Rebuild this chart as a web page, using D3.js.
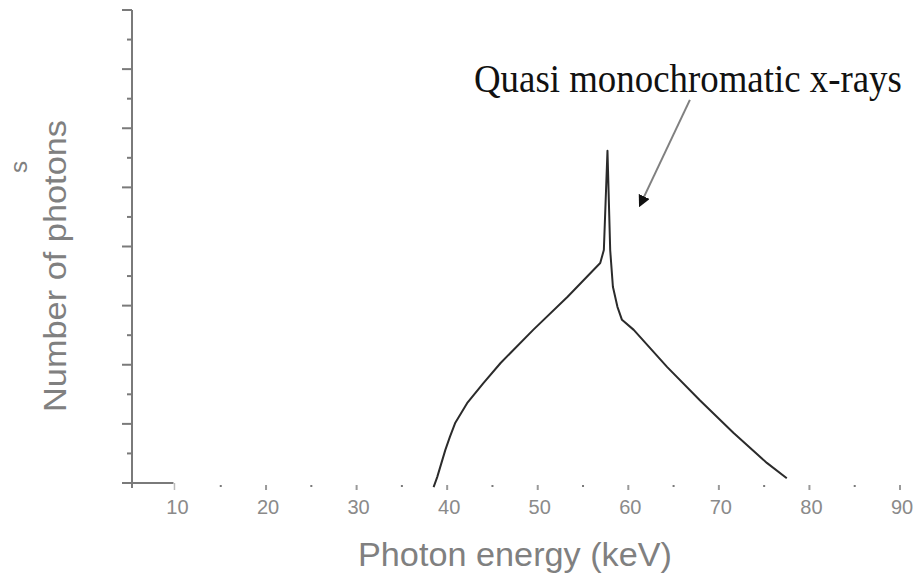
<!DOCTYPE html>
<html>
<head>
<meta charset="utf-8">
<script src="https://cdn.jsdelivr.net/npm/d3@7"></script>
<style>
  body { margin: 0; background: #fff; }
  svg { display: block; }
</style>
</head>
<body>
<div id="chart"></div>
<script>
// photon spectrum (energy in keV, counts in axis units)
const energy = [38.5, 38.9, 39.8, 40.3, 40.9, 42.2, 44.0, 45.9, 49.5, 53.3, 56.9, 57.3,
                57.7, 58.0, 58.3, 58.8, 59.3, 60.6, 64.3, 67.9, 71.6, 75.3, 77.5];
const counts = [-0.07, 0.10, 0.56, 0.78, 1.02, 1.35, 1.69, 2.03, 2.59, 3.15, 3.72, 3.94,
                5.62, 3.94, 3.32, 2.98, 2.76, 2.59, 1.96, 1.40, 0.85, 0.34, 0.08];

const xTickLabels = [10, 20, 30, 40, 50, 60, 70, 80, 90];
const yTicks = d3.range(0, 8.01, 0.5);

// annotation arrow, data units: [tail, head]
const arrowPts = [[66.8, 6.48], [61.3, 4.70]];
const annotText = "Quasi monochromatic x-rays";

const W = 913, H = 575;

const svg = d3.select("#chart").append("svg")
    .attr("width", W)
    .attr("height", H);

const x = d3.scaleLinear().domain([5.2, 90]).range([132, 900]);
const y = d3.scaleLinear().domain([0, 8]).range([483, 10]);

const gray = "#7a7a7a";

// y axis line
svg.append("line")
    .attr("x1", x(5.2)).attr("x2", x(5.2))
    .attr("y1", y(8)).attr("y2", y(0) + 5)
    .attr("stroke", gray).attr("stroke-width", 2);

svg.selectAll(".ytick")
    .data(yTicks)
    .enter()
    .append("line")
    .attr("class", "ytick")
    .attr("x1", d => x(5.2) - (d % 1 === 0 ? 10 : 5))
    .attr("x2", x(5.2))
    .attr("y1", d => y(d))
    .attr("y2", d => y(d))
    .attr("stroke", gray)
    .attr("stroke-width", 2);

// short x axis stub (only drawn up to 10 keV in the original)
svg.append("line")
    .attr("x1", x(5.2) - 10).attr("x2", x(10) - 2)
    .attr("y1", y(0)).attr("y2", y(0))
    .attr("stroke", gray).attr("stroke-width", 2);
svg.append("line")
    .attr("x1", x(10) - 1).attr("x2", x(10) - 1)
    .attr("y1", y(0)).attr("y2", y(0) + 7)
    .attr("stroke", "#bbb").attr("stroke-width", 1.5);

// x ticks as small dots every 5 keV
svg.selectAll(".xtick")
    .data(d3.range(15, 91, 5))
    .enter()
    .append("rect")
    .attr("class", "xtick")
    .attr("x", d => x(d) - 1)
    .attr("y", y(0) + 2)
    .attr("width", 2)
    .attr("height", d => d % 10 === 0 ? 5 : 2)
    .attr("fill", d => d % 10 === 0 ? "#9a9a9a" : gray);

svg.selectAll(".xlabel")
    .data(xTickLabels)
    .enter()
    .append("text")
    .attr("class", "xlabel")
    .attr("x", d => x(d) + 2)
    .attr("y", 514)
    .attr("text-anchor", "middle")
    .attr("font-family", "Liberation Sans, Arial, sans-serif")
    .attr("font-size", 20)
    .attr("fill", "#8a8a8a")
    .text(d => d);

// axis titles
svg.append("text")
    .attr("x", 515)
    .attr("y", 566)
    .attr("text-anchor", "middle")
    .attr("font-family", "Liberation Sans, Arial, sans-serif")
    .attr("font-size", 33)
    .attr("fill", "#808080")
    .attr("textLength", 314)
    .attr("lengthAdjust", "spacingAndGlyphs")
    .text("Photon energy (keV)");

svg.append("text")
    .attr("transform", "translate(66,266) rotate(-90)")
    .attr("text-anchor", "middle")
    .attr("font-family", "Liberation Sans, Arial, sans-serif")
    .attr("font-size", 32)
    .attr("fill", "#808080")
    .attr("textLength", 292)
    .attr("lengthAdjust", "spacingAndGlyphs")
    .text("Number of photons");

svg.append("text")
    .attr("transform", "translate(27,167) rotate(-90)")
    .attr("text-anchor", "middle")
    .attr("font-family", "Liberation Sans, Arial, sans-serif")
    .attr("font-size", 24)
    .attr("fill", "#808080")
    .text("s");

// spectrum line
const pts = energy.map((e, i) => [e, counts[i]]);
const line = d3.line()
    .x(d => x(d[0]))
    .y(d => y(d[1]));

svg.append("path")
    .datum(pts)
    .attr("fill", "none")
    .attr("stroke", "#2b2b2b")
    .attr("stroke-width", 2)
    .attr("stroke-linejoin", "round")
    .attr("d", line);

// annotation: serif text, squeezed sideways like in the original
const annot = svg.append("text")
    .attr("x", 0)
    .attr("y", 0)
    .attr("font-family", "Liberation Serif, Times New Roman, serif")
    .attr("font-size", 40)
    .attr("fill", "#111")
    .text(annotText);
const natural = annot.node().getComputedTextLength();
const fs = 40 * 428 / natural;
annot.attr("font-size", fs)
    .attr("transform", `translate(474,92) scale(1,${40 / fs})`);

svg.append("defs").append("marker")
    .attr("id", "ah")
    .attr("viewBox", "0 0 10 10")
    .attr("refX", 8).attr("refY", 5)
    .attr("markerWidth", 6).attr("markerHeight", 6)
    .attr("orient", "auto")
    .append("path")
    .attr("d", "M0,0 L10,5 L0,10 Z")
    .attr("fill", "#111");

svg.append("line")
    .attr("x1", x(arrowPts[0][0])).attr("y1", y(arrowPts[0][1]))
    .attr("x2", x(arrowPts[1][0])).attr("y2", y(arrowPts[1][1]))
    .attr("stroke", "#808080")
    .attr("stroke-width", 2)
    .attr("marker-end", "url(#ah)");
</script>
</body>
</html>
